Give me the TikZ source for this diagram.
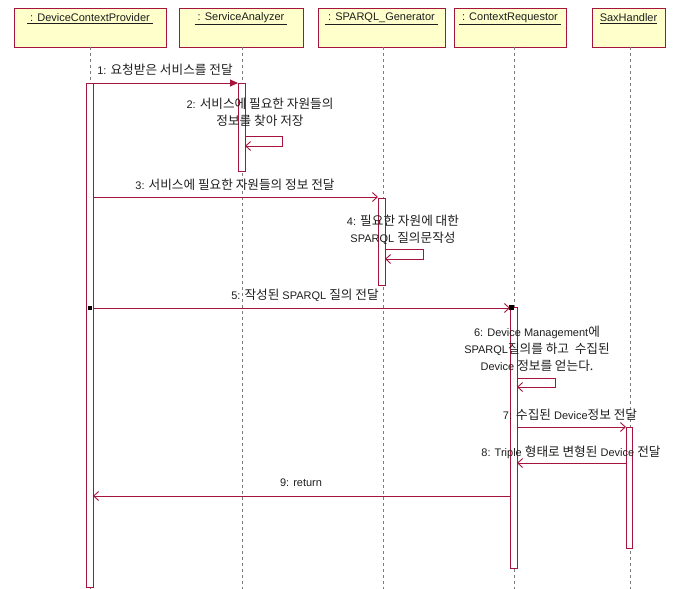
\documentclass[tikz,border=0pt]{standalone}
\usepackage{fontspec}
\setmainfont{Liberation Sans}
\newfontfamily\krfont[Scale=1.15]{Noto Sans CJK KR}
\newcommand\kr[1]{{\krfont #1}}
\usetikzlibrary{arrows.meta}
\definecolor{umlred}{RGB}{165,20,60}
\definecolor{umlfill}{RGB}{255,255,204}
\definecolor{txt}{RGB}{30,30,30}
\definecolor{lifegray}{RGB}{125,125,125}
\begin{document}
\begin{tikzpicture}[x=1pt,y=-1pt,
  objbox/.style={draw=umlred, fill=umlfill, line width=0.9pt, minimum height=39pt, inner sep=0pt},
  objtext/.style={font=\fontsize{11}{13}\selectfont, text=txt, inner sep=0pt},
  life/.style={draw=lifegray, line width=0.9pt, dash pattern=on 3pt off 3pt},
  act/.style={draw=umlred, fill=white, line width=0.9pt, minimum width=7pt, inner sep=0pt},
  msg/.style={draw=umlred, line width=0.9pt, -{Straight Barb[length=5pt,width=9pt]}},
  syncmsg/.style={draw=umlred, line width=0.9pt, -{Triangle[length=8pt,width=7pt]}},
  lbl/.style={font=\fontsize{11}{17}\selectfont, text=txt, align=center, inner sep=0pt},
  blk/.style={fill=black, minimum size=4pt, inner sep=0pt}
]
\useasboundingbox (0,0) rectangle (678,589);
% objects
\node[objbox, minimum width=152pt] (o1) at (90,27.5) {};
\node[objbox, minimum width=124pt] (o2) at (241,27.5) {};
\node[objbox, minimum width=127pt] (o3) at (381.5,27.5) {};
\node[objbox, minimum width=112pt] (o4) at (510,27.5) {};
\node[objbox, minimum width=73pt] (o5) at (628.5,27.5) {};
\node[objtext] (t1) at (90,19) {\underline{\ : DeviceContextProvider\ }};
\node[objtext] (t2) at (241,19) {\underline{\ : ServiceAnalyzer\ }};
\node[objtext] (t3) at (381.5,19) {\underline{\ : SPARQL\_Generator\ }};
\node[objtext] (t4) at (510,19) {\underline{\ : ContextRequestor\ }};
\node[objtext] (t5) at (628.5,19) {\underline{SaxHandler}};
% lifeline ends
\coordinate (e1) at (90,589);
\coordinate (e2) at (242,589);
\coordinate (e3) at (383,589);
\coordinate (e4) at (514,589);
\coordinate (e5) at (630,589);
\draw[life] (o1.south -| e1) -- (e1);
\draw[life] (o2.south -| e2) -- (e2);
\draw[life] (o3.south -| e3) -- (e3);
\draw[life] (o4.south -| e4) -- (e4);
\draw[life] (o5.south -| e5) -- (e5);
% activations
\node[act, minimum height=504pt] (a1) at (89.5,335) {};
\node[act, minimum height=88pt] (a2) at (241.5,127) {};
\node[act, minimum height=87pt] (a3) at (381.5,241.5) {};
\node[act, minimum height=261pt] (a4) at (513.5,437.5) {};
\node[act, minimum width=6pt, minimum height=121pt] (a5) at (629,487.5) {};
% message points
\coordinate (m1s) at (93,83);   \coordinate (m1e) at (238,83);
\coordinate (m2s) at (245,136); \coordinate (m2e) at (245,146);
\coordinate (m3s) at (93,197);  \coordinate (m3e) at (378,197);
\coordinate (m4s) at (385,249); \coordinate (m4e) at (385,259);
\coordinate (m5s) at (93,308);  \coordinate (m5e) at (510,308);
\coordinate (m6s) at (517,378); \coordinate (m6e) at (517,387);
\coordinate (m7s) at (517,427); \coordinate (m7e) at (626,427);
\coordinate (m8s) at (626,463); \coordinate (m8e) at (517,463);
\coordinate (m9s) at (510,496); \coordinate (m9e) at (93,496);
% messages
\draw[syncmsg] (m1s) -- (m1e);
\draw[msg] (m2s) -- ++(37,0) |- (m2e);
\draw[msg] (m3s) -- (m3e);
\draw[msg] (m4s) -- ++(38,0) |- (m4e);
\draw[msg] (m5s) -- (m5e);
\draw[msg] (m6s) -- ++(38,0) |- (m6e);
\draw[msg] (m7s) -- (m7e);
\draw[msg] (m8s) -- (m8e);
\draw[msg] (m9s) -- (m9e);
\node[blk] (b1) at (90,308) {};
\node[blk, minimum size=5pt] (b2) at (511,307) {};
% labels
\node[lbl] (l1) at (165,70) {1: \kr{요청받은 서비스를 전달}};
\node[lbl] (l2) at (260,112) {2: \kr{서비스에 필요한 자원들의}\\\kr{정보를 찾아 저장}};
\node[lbl] (l3) at (235,185) {3: \kr{서비스에 필요한 자원들의 정보 전달}};
\node[lbl] (l4) at (403,230) {4: \kr{필요한 자원에 대한}\\SPARQL \kr{질의문작성}};
\node[lbl] (l5) at (305,295) {5: \kr{작성된} SPARQL \kr{질의 전달}};
\node[lbl] (l6) at (537,349) {6: Device Management\kr{에}\\SPARQL\kr{질의를 하고\ \ 수집된}\\Device \kr{정보를 얻는다.}};
\node[lbl] (l7) at (570,415) {7: \kr{수집된} Device\kr{정보 전달}};
\node[lbl] (l8) at (571,452) {8: Triple \kr{형태로 변형된} Device \kr{전달}};
\node[lbl] (l9) at (301,483) {9: return};
\end{tikzpicture}
\end{document}
